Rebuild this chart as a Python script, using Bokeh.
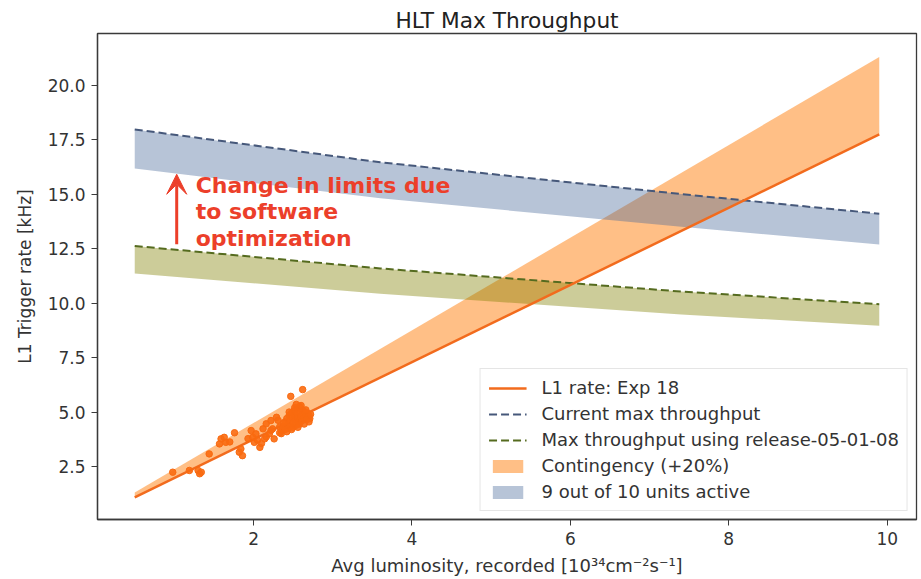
from bokeh.plotting import figure
from bokeh.models import (Range1d, FixedTicker, PrintfTickFormatter, Legend,
                          LegendItem, Arrow, VeeHead)
from bokeh.core.properties import value
from bokeh.embed import file_html
from bokeh.resources import INLINE

# ---------------- data ----------------
lumi_line = [0.5, 9.9]
l1_rate = [1.09, 17.74]
contingency_top = [1.31, 21.29]

lumi_limit = [0.5, 3.6, 7.4, 9.9]
current_max = [17.97, 16.46, 15.00, 14.10]
current_9of10 = [16.17, 14.81, 13.50, 12.69]
release_max = [12.62, 11.59, 10.53, 9.95]
release_9of10 = [11.36, 10.43, 9.48, 8.96]

scatter_lumi = [0.98, 1.19, 1.30, 1.32, 1.34, 1.44, 1.57, 1.59, 1.63, 1.65,
                1.70, 1.76, 1.82, 1.84, 1.86, 1.93, 1.97, 1.99, 2.01, 2.03,
                2.05, 2.08, 2.10, 2.12, 2.14, 2.16, 2.16, 2.20, 2.22, 2.22,
                2.24, 2.26, 2.29, 2.31, 2.33, 2.35, 2.33, 2.36, 2.38, 2.40,
                2.40, 2.42, 2.43, 2.44, 2.45, 2.46, 2.47, 2.48, 2.49, 2.50,
                2.50, 2.51, 2.52, 2.53, 2.54, 2.55, 2.55, 2.56, 2.57, 2.58,
                2.58, 2.59, 2.60, 2.61, 2.62, 2.63, 2.64, 2.65, 2.66, 2.67,
                2.68, 2.69, 2.70, 2.71, 2.72, 2.60, 2.52, 2.45, 2.47, 2.62,
                2.38, 2.42, 2.56, 2.64, 2.70, 2.48, 2.54, 2.66]
scatter_rate = [2.24, 2.32, 2.32, 2.17, 2.24, 3.08, 3.54, 3.77, 3.84, 3.61,
                3.63, 4.05, 3.16, 3.31, 3.00, 3.78, 4.15, 3.84, 3.61, 4.00,
                3.71, 3.38, 3.56, 4.23, 3.77, 4.46, 3.86, 4.00, 4.61, 4.16,
                4.23, 3.77, 4.76, 4.62, 4.32, 4.01, 4.05, 4.15, 4.35, 4.55,
                4.20, 4.70, 4.40, 4.25, 4.85, 4.60, 4.35, 4.95, 4.75, 4.50,
                4.30, 5.05, 4.85, 4.65, 4.40, 5.15, 4.95, 4.75, 4.55, 5.25,
                4.45, 5.00, 4.80, 4.60, 5.10, 4.90, 4.70, 5.00, 4.80, 4.65,
                4.95, 4.75, 4.85, 4.70, 4.90, 5.30, 5.20, 5.00, 5.72, 6.03,
                4.50, 4.10, 4.30, 4.45, 4.55, 4.20, 5.35, 5.10]

x_ticks = [2, 4, 6, 8, 10]
y_ticks = [2.5, 5.0, 7.5, 10.0, 12.5, 15.0, 17.5, 20.0]

annotation_lines = ["Change in limits due", "to software", "optimization"]

# ---------------- figure ----------------
p = figure(width=921, height=579,
           x_range=Range1d(0.03, 10.37), y_range=Range1d(0.07, 22.37),
           output_backend="svg", toolbar_location=None,
           min_border_left=97, min_border_right=5,
           min_border_top=33, min_border_bottom=60)
p.background_fill_color = "white"
p.border_fill_color = "white"
p.xgrid.grid_line_color = None
p.ygrid.grid_line_color = None
p.outline_line_color = "#3a3a3a"
p.outline_line_width = 1.3

p.title.text = "HLT Max Throughput"
p.title.align = "center"
p.title.text_font = "DejaVu Sans"
p.title.text_font_size = "21.7px"
p.title.text_font_style = "normal"
p.title.text_color = "#222222"
p.title.standoff = 2

# bands
cont = p.varea(x=lumi_line, y1=l1_rate, y2=contingency_top,
               fill_color="#ff7f0e", fill_alpha=0.5)
blue = p.varea(x=lumi_limit, y1=current_9of10, y2=current_max,
               fill_color="#4a6b9a", fill_alpha=0.4)
green = p.varea(x=lumi_limit, y1=release_9of10, y2=release_max,
                fill_color="#808000", fill_alpha=0.4)

# lines
cur = p.line(lumi_limit, current_max, line_color="#46587a", line_width=2,
             line_dash="8 4")
rel = p.line(lumi_limit, release_max, line_color="#556b1f", line_width=2,
             line_dash="8 4")
l1 = p.line(lumi_line, l1_rate, line_color="#f26b1d", line_width=2.5)

# data points
p.scatter(scatter_lumi, scatter_rate, size=6.5, fill_color="#f96a10",
          line_color="#f96a10", fill_alpha=0.9)

# annotation
red = "#ec3f2a"
p.add_layout(Arrow(end=VeeHead(size=20, fill_color=red, line_color=red),
                   x_start=1.03, y_start=12.7, x_end=1.03, y_end=15.91,
                   line_color=red, line_width=3))
p.text(x=[1.27, 1.27, 1.27], y=[15.41, 14.20, 12.98], text=annotation_lines,
       text_font=value("DejaVu Sans"), text_font_style="bold",
       text_font_size="22px", text_color=red, text_baseline="middle")

# axes
for ax in (p.xaxis[0], p.yaxis[0]):
    ax.axis_line_color = "#3a3a3a"
    ax.axis_line_width = 1.3
    ax.major_tick_line_color = "#3a3a3a"
    ax.major_tick_out = 6
    ax.major_tick_in = 0
    ax.minor_tick_line_color = None
    ax.major_label_text_font = "DejaVu Sans"
    ax.major_label_text_font_size = "17px"
    ax.major_label_text_color = "#333333"
    ax.axis_label_text_font = "DejaVu Sans"
    ax.axis_label_text_font_style = "normal"
    ax.axis_label_text_color = "#333333"

p.xaxis.axis_label_text_font_size = "18px"
p.yaxis.axis_label_text_font_size = "17px"
p.xaxis.ticker = FixedTicker(ticks=x_ticks, minor_ticks=[])
p.yaxis.ticker = FixedTicker(ticks=y_ticks, minor_ticks=[])
p.yaxis.formatter = PrintfTickFormatter(format="%.1f")
p.xaxis.axis_label = "Avg luminosity, recorded [10\u00b3\u2074cm\u207b\u00b2s\u207b\u00b9]"
p.yaxis.axis_label = "L1 Trigger rate [kHz]"
p.xaxis.major_label_standoff = 6
p.yaxis.major_label_standoff = 6
p.xaxis.axis_label_standoff = 7
p.yaxis.axis_label_standoff = 10

legend = Legend(items=[
    LegendItem(label="L1 rate: Exp 18", renderers=[l1]),
    LegendItem(label="Current max throughput", renderers=[cur]),
    LegendItem(label="Max throughput using release-05-01-08", renderers=[rel]),
    LegendItem(label="Contingency (+20%)", renderers=[cont]),
    LegendItem(label="9 out of 10 units active", renderers=[blue]),
], location="bottom_right")
legend.margin = 8
legend.padding = 8
legend.spacing = 5
legend.label_height = 21
legend.glyph_height = 16
legend.glyph_width = 38
legend.label_standoff = 15
legend.label_text_font = "DejaVu Sans"
legend.label_text_font_size = "18px"
legend.label_text_color = "#333333"
legend.border_line_color = "#cccccc"
legend.border_line_width = 1
legend.background_fill_alpha = 0.85
p.add_layout(legend)

open("out.html", "w").write(file_html(p, INLINE))
